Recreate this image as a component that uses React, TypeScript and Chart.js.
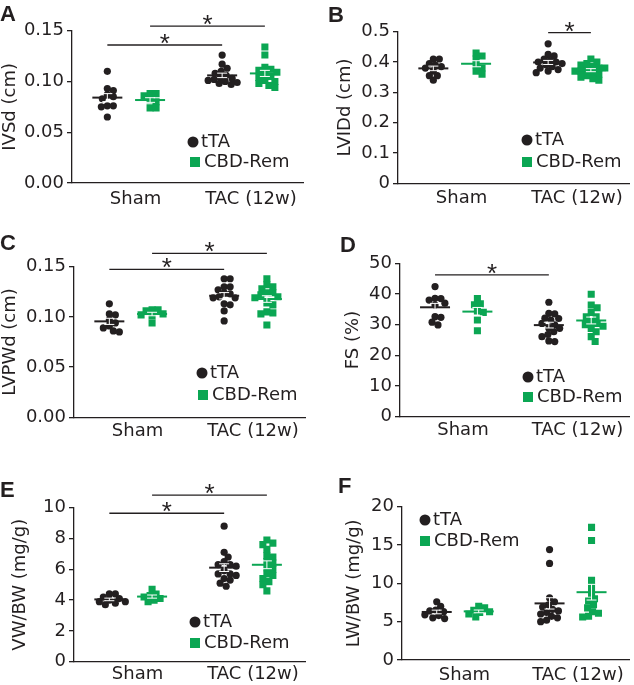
import React, { useEffect, useRef } from "react";
import { Chart, registerables } from "chart.js";

Chart.register(...registerables);

// ---------- data ----------
const categories = ["Sham", "TAC (12w)"];
const seriesNames = ["tTA", "CBD-Rem"];

// A: IVSd (cm)
const ivsdShamTTA = [0.110, 0.093, 0.091, 0.087, 0.085, 0.083, 0.076, 0.075, 0.076, 0.065];
const ivsdShamCBD = [0.088, 0.088, 0.086, 0.082, 0.080, 0.074, 0.074];
const ivsdTacTTA = [0.126, 0.117, 0.113, 0.110, 0.108, 0.106, 0.104, 0.103, 0.102, 0.101, 0.100, 0.099, 0.098, 0.097];
const ivsdTacCBD = [0.134, 0.126, 0.114, 0.112, 0.111, 0.109, 0.107, 0.105, 0.104, 0.101, 0.100, 0.098, 0.096, 0.094];
const ivsdTickValues = [0, 0.05, 0.1, 0.15];
const ivsdTickLabels = ["0.00", "0.05", "0.10", "0.15"];
const ivsdSig = [{ from: 0, to: 2, y: 0.1359 }, { from: 1, to: 3, y: 0.1546 }];

// B: LVIDd (cm)
const lvidShamTTA = [0.41, 0.41, 0.395, 0.39, 0.385, 0.38, 0.37, 0.355, 0.355, 0.34];
const lvidShamCBD = [0.43, 0.42, 0.41, 0.39, 0.38, 0.37, 0.36];
const lvidTacTTA = [0.46, 0.425, 0.42, 0.41, 0.405, 0.40, 0.40, 0.395, 0.39, 0.385, 0.38, 0.375, 0.37, 0.365];
const lvidTacCBD = [0.41, 0.40, 0.395, 0.39, 0.385, 0.38, 0.38, 0.375, 0.37, 0.37, 0.365, 0.36, 0.355, 0.35, 0.345, 0.34];
const lvidTickValues = [0, 0.1, 0.2, 0.3, 0.4, 0.5];
const lvidTickLabels = ["0", "0.1", "0.2", "0.3", "0.4", "0.5"];
const lvidSig = [{ from: 2, to: 3, y: 0.4967 }];

// C: LVPWd (cm)
const lvpwShamTTA = [0.113, 0.103, 0.102, 0.097, 0.094, 0.091, 0.089, 0.086, 0.085];
const lvpwShamCBD = [0.107, 0.107, 0.106, 0.103, 0.102, 0.101, 0.094];
const lvpwTacTTA = [0.138, 0.138, 0.130, 0.130, 0.127, 0.124, 0.123, 0.120, 0.119, 0.119, 0.113, 0.112, 0.106, 0.096];
const lvpwTacCBD = [0.138, 0.132, 0.130, 0.128, 0.124, 0.124, 0.122, 0.120, 0.119, 0.114, 0.112, 0.105, 0.104, 0.103, 0.092];
const lvpwTickValues = [0, 0.05, 0.1, 0.15];
const lvpwTickLabels = ["0.00", "0.05", "0.10", "0.15"];
const lvpwSig = [{ from: 0, to: 2, y: 0.1474 }, { from: 1, to: 3, y: 0.1633 }];

// D: FS (%)
const fsShamTTA = [42.4, 38.6, 38.0, 38.5, 36.4, 37.0, 32.6, 32.4, 30.8, 29.9];
const fsShamCBD = [38.5, 36.8, 36.5, 34.5, 34.0, 31.5, 28.0];
const fsTacTTA = [37.3, 33.7, 33.5, 32.1, 32.0, 31.5, 30.4, 29.9, 28.8, 28.8, 27.7, 26.8, 26.1, 24.7, 24.5];
const fsTacCBD = [39.9, 36.4, 35.5, 34.0, 32.6, 32.6, 31.0, 30.4, 30.0, 29.5, 28.8, 27.7, 26.1, 24.5];
const fsTickValues = [0, 10, 20, 30, 40, 50];
const fsTickLabels = ["0", "10", "20", "30", "40", "50"];
const fsSig = [{ from: 0, to: 2, y: 46.2 }];

// E: VW/BW (mg/g)
const vwShamTTA = [4.4, 4.4, 4.2, 4.1, 4.0, 3.9, 3.9, 3.8, 3.7];
const vwShamCBD = [4.7, 4.4, 4.3, 4.2, 4.1, 4.0, 3.9];
const vwTacTTA = [8.8, 7.1, 6.8, 6.5, 6.3, 6.3, 6.2, 5.9, 5.7, 5.7, 5.6, 5.4, 5.3, 5.1, 4.9];
const vwTacCBD = [7.9, 7.7, 7.6, 7.3, 6.9, 6.8, 6.5, 6.4, 6.1, 6.0, 5.7, 5.6, 5.4, 5.2, 5.0, 4.6];
const vwTickValues = [0, 2, 4, 6, 8, 10];
const vwTickLabels = ["0", "2", "4", "6", "8", "10"];
const vwSig = [{ from: 0, to: 2, y: 9.64 }, { from: 1, to: 3, y: 10.82 }];

// F: LW/BW (mg/g)
const lwShamTTA = [7.6, 7.0, 6.5, 6.4, 6.3, 5.9, 5.8, 5.5, 5.4];
const lwShamCBD = [7.0, 6.8, 6.5, 6.3, 6.2, 6.0, 5.6];
const lwTacTTA = [14.4, 12.6, 8.1, 7.6, 7.2, 6.9, 6.6, 6.4, 6.2, 6.0, 5.7, 5.5, 5.2, 5.0];
const lwTacCBD = [17.3, 15.6, 10.4, 9.6, 8.7, 8.0, 7.7, 7.2, 6.8, 6.3, 6.1, 5.7, 5.6];
const lwTickValues = [0, 5, 10, 15, 20];
const lwTickLabels = ["0", "5", "10", "15", "20"];
const lwSig: { from: number; to: number; y: number }[] = [];

// ---------- style / layout ----------
const INK = "#231f20";
const GREEN = "#0ba653";
const FONT = "'DejaVu Sans', 'Liberation Sans', Arial, sans-serif";
const FONT_STAR = "'Liberation Sans', Arial, Helvetica, sans-serif";
const FS = 18;
const X_MAX = 10;
const GROUP_X = [1.53, 3.38, 6.5, 8.35];
const LABEL_X = [2.75, 7.75];
const GROUP_COLORS = [INK, GREEN, INK, GREEN];

type Sig = { from: number; to: number; y: number };
type PanelDef = {
  letter: string;
  title: string;
  groups: number[][];
  tickValues: number[];
  tickLabels: string[];
  sig: Sig[];
  canvas: { x: number; y: number; w: number; h: number };
  area: { l: number; t: number; r: number; b: number };
  titleX: number;
  letterPos: [number, number];
  legendPos: [number, number, number, number];
  xPad: number;
};

const panels: PanelDef[] = [
  {
    letter: "A", title: "IVSd (cm)",
    groups: [ivsdShamTTA, ivsdShamCBD, ivsdTacTTA, ivsdTacCBD],
    tickValues: ivsdTickValues, tickLabels: ivsdTickLabels, sig: ivsdSig,
    canvas: { x: 0, y: 0, w: 317, h: 228 },
    area: { l: 72, t: 30.7, r: 303, b: 183 },
    titleX: 10.7, letterPos: [0, 21], legendPos: [193, 142, 195, 162], xPad: 5.2,
  },
  {
    letter: "B", title: "LVIDd (cm)",
    groups: [lvidShamTTA, lvidShamCBD, lvidTacTTA, lvidTacCBD],
    tickValues: lvidTickValues, tickLabels: lvidTickLabels, sig: lvidSig,
    canvas: { x: 317, y: 0, w: 317, h: 228 },
    area: { l: 398, t: 31.7, r: 630, b: 183.3 },
    titleX: 345, letterPos: [328, 22], legendPos: [527, 140, 527, 162], xPad: 4.2,
  },
  {
    letter: "C", title: "LVPWd (cm)",
    groups: [lvpwShamTTA, lvpwShamCBD, lvpwTacTTA, lvpwTacCBD],
    tickValues: lvpwTickValues, tickLabels: lvpwTickLabels, sig: lvpwSig,
    canvas: { x: 0, y: 228, w: 317, h: 230 },
    area: { l: 74, t: 266.7, r: 305, b: 417.3 },
    titleX: 10.7, letterPos: [0, 250], legendPos: [202, 373, 203, 395], xPad: 3.6,
  },
  {
    letter: "D", title: "FS (%)",
    groups: [fsShamTTA, fsShamCBD, fsTacTTA, fsTacCBD],
    tickValues: fsTickValues, tickLabels: fsTickLabels, sig: fsSig,
    canvas: { x: 317, y: 228, w: 317, h: 230 },
    area: { l: 400, t: 263.3, r: 633, b: 416.7 },
    titleX: 353.3, letterPos: [340, 252], legendPos: [528, 377, 528, 397], xPad: 2.6,
  },
  {
    letter: "E", title: "VW/BW (mg/g)",
    groups: [vwShamTTA, vwShamCBD, vwTacTTA, vwTacCBD],
    tickValues: vwTickValues, tickLabels: vwTickLabels, sig: vwSig,
    canvas: { x: 0, y: 458, w: 317, h: 227 },
    area: { l: 74, t: 507.7, r: 305, b: 661.7 },
    titleX: 20.7, letterPos: [0, 497], legendPos: [195, 622, 195, 643], xPad: 2.2,
  },
  {
    letter: "F", title: "LW/BW (mg/g)",
    groups: [lwShamTTA, lwShamCBD, lwTacTTA, lwTacCBD],
    tickValues: lwTickValues, tickLabels: lwTickLabels, sig: lwSig,
    canvas: { x: 317, y: 458, w: 317, h: 227 },
    area: { l: 402, t: 506.7, r: 632, b: 660 },
    titleX: 354, letterPos: [338, 493], legendPos: [425, 520, 425, 541], xPad: 4.2,
  },
];

// ---------- helpers ----------
function mean(v: number[]) {
  return v.reduce((a, b) => a + b, 0) / v.length;
}
function sem(v: number[]) {
  const m = mean(v);
  const sd = Math.sqrt(v.reduce((a, b) => a + (b - m) * (b - m), 0) / (v.length - 1));
  return sd / Math.sqrt(v.length);
}
// deterministic beeswarm: offsets computed from the values themselves
function swarm(values: number[], center: number, pxY: number, pxX: number, diam = 6) {
  const order = values.map((_, i) => i).sort((a, b) => values[b] - values[a]);
  const placed: { x: number; y: number }[] = [];
  const xs: number[] = new Array(values.length);
  for (const i of order) {
    const y = values[i] * pxY;
    let best = 0;
    for (let k = 0; k < 80; k++) {
      const off = k === 0 ? 0 : (k % 2 ? 1 : -1) * Math.ceil(k / 2);
      if (placed.every((p) => Math.hypot(p.x - off, p.y - y) >= diam)) {
        best = off;
        break;
      }
    }
    placed.push({ x: best, y });
    xs[i] = center + best / pxX;
  }
  return xs;
}

function line(ctx: CanvasRenderingContext2D, x1: number, y1: number, x2: number, y2: number) {
  ctx.beginPath();
  ctx.moveTo(x1, y1);
  ctx.lineTo(x2, y2);
  ctx.stroke();
}

function buildChart(canvas: HTMLCanvasElement, p: PanelDef) {
  const c = p.canvas;
  const a = p.area;
  const padLeft = p.titleX - c.x - FS / 2;
  const yWidth = a.l - c.x - padLeft;
  const padTop = a.t - c.y;
  const padRight = c.x + c.w - a.r;
  const xHeight = c.y + c.h - a.b;
  const yMax = p.tickValues[p.tickValues.length - 1];
  const pxY = (a.b - a.t) / yMax;
  const pxX = (a.r - a.l) / X_MAX;

  const groupPts = p.groups.map((vals, gi) => {
    const xs = swarm(vals, GROUP_X[gi], pxY, pxX);
    return vals.map((v, i) => ({ x: xs[i], y: v }));
  });

  const overlay = {
    id: "overlay",
    afterDatasetsDraw(chart: any) {
      const ctx: CanvasRenderingContext2D = chart.ctx;
      const xs = chart.scales.x;
      const ys = chart.scales.y;
      ctx.save();
      p.groups.forEach((vals, gi) => {
        const cx = xs.getPixelForValue(GROUP_X[gi]);
        const m = mean(vals);
        const s = sem(vals);
        const my = ys.getPixelForValue(m);
        ctx.strokeStyle = GROUP_COLORS[gi];
        ctx.lineWidth = 2;
        line(ctx, cx - 15, my, cx + 15, my);
        const t = ys.getPixelForValue(m + s);
        const b = ys.getPixelForValue(m - s);
        ctx.strokeStyle = "#ffffff";
        ctx.lineWidth = 1;
        line(ctx, cx, t, cx, b);
        line(ctx, cx - 5, t, cx + 5, t);
        line(ctx, cx - 5, b, cx + 5, b);
      });
      ctx.restore();
    },
    afterDraw(chart: any) {
      const ctx: CanvasRenderingContext2D = chart.ctx;
      const xs = chart.scales.x;
      const ys = chart.scales.y;
      ctx.save();
      // significance brackets
      ctx.strokeStyle = INK;
      ctx.fillStyle = INK;
      ctx.lineWidth = 1.3;
      p.sig.forEach((s) => {
        const x1 = xs.getPixelForValue(GROUP_X[s.from]);
        const x2 = xs.getPixelForValue(GROUP_X[s.to]);
        const y = ys.getPixelForValue(s.y);
        line(ctx, x1, y, x2, y);
        ctx.font = `26px ${FONT_STAR}`;
        ctx.textAlign = "center";
        ctx.textBaseline = "alphabetic";
        ctx.fillText("*", (x1 + x2) / 2, y + 6.8);
      });
      // legend
      const [cx1, cy1, cx2, cy2] = p.legendPos;
      const lx1 = cx1 - c.x, ly1 = cy1 - c.y, lx2 = cx2 - c.x, ly2 = cy2 - c.y;
      ctx.fillStyle = INK;
      ctx.beginPath();
      ctx.arc(lx1, ly1, 5.5, 0, Math.PI * 2);
      ctx.fill();
      ctx.fillStyle = GREEN;
      ctx.fillRect(lx2 - 5, ly2 - 5, 10, 10);
      ctx.fillStyle = INK;
      ctx.font = `${FS}px ${FONT}`;
      ctx.textAlign = "left";
      ctx.textBaseline = "middle";
      ctx.fillText(chart.data.datasets[0].label, lx1 + 8, ly1);
      ctx.fillText(chart.data.datasets[1].label, lx2 + 9, ly2);
      // panel letter
      ctx.font = `bold 22px ${FONT_STAR}`;
      ctx.textBaseline = "alphabetic";
      ctx.fillText(p.letter, p.letterPos[0] - c.x, p.letterPos[1] - c.y);
      ctx.restore();
    },
  };

  return new Chart(canvas, {
    type: "scatter",
    data: {
      datasets: [
        {
          label: seriesNames[0],
          data: [...groupPts[0], ...groupPts[2]],
          pointStyle: "circle",
          pointRadius: 3.6,
          backgroundColor: INK,
          borderWidth: 0,
        },
        {
          label: seriesNames[1],
          data: [...groupPts[1], ...groupPts[3]],
          pointStyle: "rect",
          pointRadius: 5,
          backgroundColor: GREEN,
          borderWidth: 0,
        },
      ],
    },
    options: {
      responsive: false,
      animation: false,
      devicePixelRatio: 1,
      events: [],
      layout: { padding: { left: padLeft, top: padTop, right: padRight, bottom: 0 } },
      plugins: { legend: { display: false }, tooltip: { enabled: false } },
      scales: {
        x: {
          type: "linear",
          min: 0,
          max: X_MAX,
          afterBuildTicks: (s: any) => {
            s.ticks = LABEL_X.map((v) => ({ value: v }));
          },
          afterFit: (s: any) => {
            s.height = xHeight;
          },
          ticks: {
            callback: (_v: any, i: number) => categories[i],
            padding: p.xPad,
            maxRotation: 0,
            autoSkip: false,
            color: INK,
            font: { size: FS, family: FONT },
          },
          grid: { display: true, drawOnChartArea: false, drawTicks: false },
          border: { display: true, color: INK, width: 1.3 },
        },
        y: {
          type: "linear",
          min: 0,
          max: yMax,
          afterBuildTicks: (s: any) => {
            s.ticks = p.tickValues.map((v) => ({ value: v }));
          },
          afterFit: (s: any) => {
            s.width = yWidth;
          },
          ticks: {
            callback: (_v: any, i: number) => p.tickLabels[i],
            padding: 3,
            color: INK,
            font: { size: FS, family: FONT },
          },
          grid: { drawOnChartArea: false, drawTicks: true, tickLength: 5, color: INK, lineWidth: 1.3 },
          border: { display: true, color: INK, width: 1.3 },
          title: {
            display: true,
            text: p.title,
            color: INK,
            padding: 0,
            font: { size: FS, family: FONT, lineHeight: 1 },
          },
        },
      },
    },
    plugins: [overlay],
  } as any);
}

function Panel({ def }: { def: PanelDef }) {
  const ref = useRef<HTMLCanvasElement | null>(null);
  useEffect(() => {
    if (!ref.current) return;
    const chart = buildChart(ref.current, def);
    return () => chart.destroy();
  }, [def]);
  return (
    <canvas
      ref={ref}
      width={def.canvas.w}
      height={def.canvas.h}
      style={{
        position: "absolute",
        left: def.canvas.x,
        top: def.canvas.y,
        width: def.canvas.w,
        height: def.canvas.h,
      }}
    />
  );
}

export default function App() {
  return (
    <div
      style={{
        position: "absolute",
        left: 0,
        top: 0,
        width: 634,
        height: 685,
        background: "#ffffff",
        overflow: "hidden",
      }}
    >
      {panels.map((p) => (
        <Panel key={p.letter} def={p} />
      ))}
    </div>
  );
}
